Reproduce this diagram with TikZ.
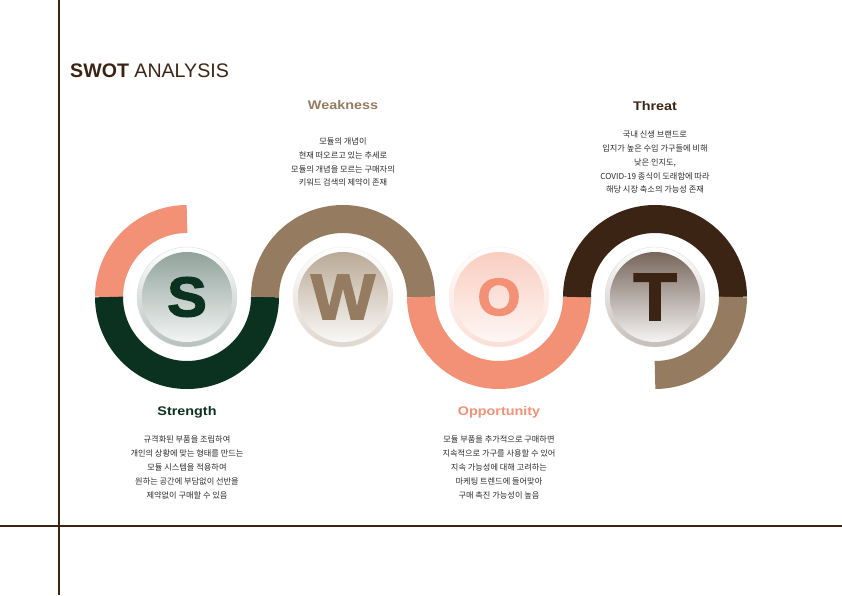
\documentclass[tikz,border=0pt]{standalone}
\usepackage{fontspec}
\setmainfont{Noto Sans CJK KR}
\newfontfamily\headfont{Liberation Sans}
\newfontfamily\wideheadfont[FakeStretch=1.15]{Liberation Sans}
\newfontfamily\letterfont[FakeStretch=1.06, BoldFeatures={FakeBold=2.5}]{Liberation Sans}
\definecolor{swotgreen}{HTML}{0B3121}
\definecolor{swottaupe}{HTML}{957B5F}
\definecolor{swotsalmon}{HTML}{F29175}
\definecolor{swotbrown}{HTML}{3C2415}
\definecolor{bodytext}{HTML}{2B2B2B}
\usetikzlibrary{positioning}

\begin{document}
\begin{tikzpicture}[x=1pt, y=1pt,
  ring/.style={line width=28pt},
  rim/.style={circle, minimum size=100pt, inner sep=0pt},
  disk/.style={circle, minimum size=90pt, inner sep=0pt, font=\letterfont\bfseries},
  head/.style={anchor=base, font=\wideheadfont\bfseries\fontsize{12.5}{14}\selectfont},
  body/.style={anchor=base, align=center, text=bodytext,
    font=\fontsize{8.2}{13.8}\selectfont}]
  \useasboundingbox (0,0) rectangle (842,595);

  % frame
  \draw[swotbrown, line width=2pt] (59,0) -- (59,595);
  \draw[swotbrown, line width=2pt] (0,69) -- (842,69);

  \node[anchor=base west, inner sep=0pt, text=swotbrown, font=\headfont\fontsize{19.6}{22}\selectfont]
    (title) at (70,517.5) {\textbf{SWOT} ANALYSIS};

  \coordinate (s) at (187,298);
  \coordinate (w) at (343,298);
  \coordinate (o) at (499,298);
  \coordinate (t) at (655,298);

  % wave
  \draw[ring, swotsalmon] (s) ++(180:78) arc[start angle=180, end angle=90, radius=78];
  \draw[ring, swotgreen] (s) ++(180:78) arc[start angle=180, end angle=360, radius=78];
  \draw[ring, swottaupe] (w) ++(180:78) arc[start angle=180, end angle=0, radius=78];
  \draw[ring, swotsalmon] (o) ++(180:78) arc[start angle=180, end angle=360, radius=78];
  \draw[ring, swotbrown] (t) ++(180:78) arc[start angle=180, end angle=0, radius=78];
  \draw[ring, swottaupe] (t) ++(0:78) arc[start angle=0, end angle=-90, radius=78];

  % buttons
  \node[rim, top color=white, bottom color=swotgreen!30, draw=swotgreen!15] (srim) at (s) {};
  \node[disk, top color=swotgreen!45, bottom color=swotgreen!5, text=swotgreen]
    (sbtn) at (s) {\fontsize{56}{56}\selectfont S};
  \node[rim, top color=white, bottom color=swottaupe!30, draw=swottaupe!15] (wrim) at (w) {};
  \node[disk, top color=swottaupe!65, bottom color=swottaupe!5, text=swottaupe]
    (wbtn) at (w) {\fontsize{64}{64}\selectfont W};
  \node[rim, top color=white, bottom color=swotsalmon!30, draw=swotsalmon!15] (orim) at (o) {};
  \node[disk, top color=swotsalmon!45, bottom color=swotsalmon!8, text=swotsalmon]
    (obtn) at (o) {\fontsize{52}{52}\selectfont O};
  \node[rim, top color=white, bottom color=swotbrown!30, draw=swotbrown!15] (trim) at (t) {};
  \node[disk, top color=swotbrown!70, bottom color=swotbrown!5, text=swotbrown]
    (tbtn) at (t) {\fontsize{67}{67}\selectfont T};

  % texts
  \node[head, text=swottaupe] (weakhead) at (343,485) {Weakness};
  \node[head, text=swotbrown] (threathead) at (655,484.5) {Threat};
  \node[head, text=swotgreen] (strhead) at (187,179.5) {Strength};
  \node[head, text=swotsalmon] (opphead) at (499,179.5) {Opportunity};

  \node[body] (weakbody) at (343,409) {모듈의 개념이\\현재 떠오르고 있는 추세로\\
    모듈의 개념을 모르는 구매자의\\키워드 검색의 제약이 존재};
  \node[body] (threatbody) at (655,402) {국내 신생 브랜드로\\입지가 높은 수입 가구들에 비해\\
    낮은 인지도,\\COVID-19 종식이 도래함에 따라\\해당 시장 축소의 가능성 존재};
  \node[body] (strbody) at (187,97) {규격화된 부품을 조립하여\\개인의 상황에 맞는 형태를 만드는\\
    모듈 시스템을 적용하여\\원하는 공간에 부담없이 선반을\\제약없이 구매할 수 있음};
  \node[body] (oppbody) at (499,97) {모듈 부품을 추가적으로 구매하면\\지속적으로 가구를 사용할 수 있어\\
    지속 가능성에 대해 고려하는\\마케팅 트렌드에 들어맞아\\구매 촉진 가능성이 높음};
\end{tikzpicture}
\end{document}
